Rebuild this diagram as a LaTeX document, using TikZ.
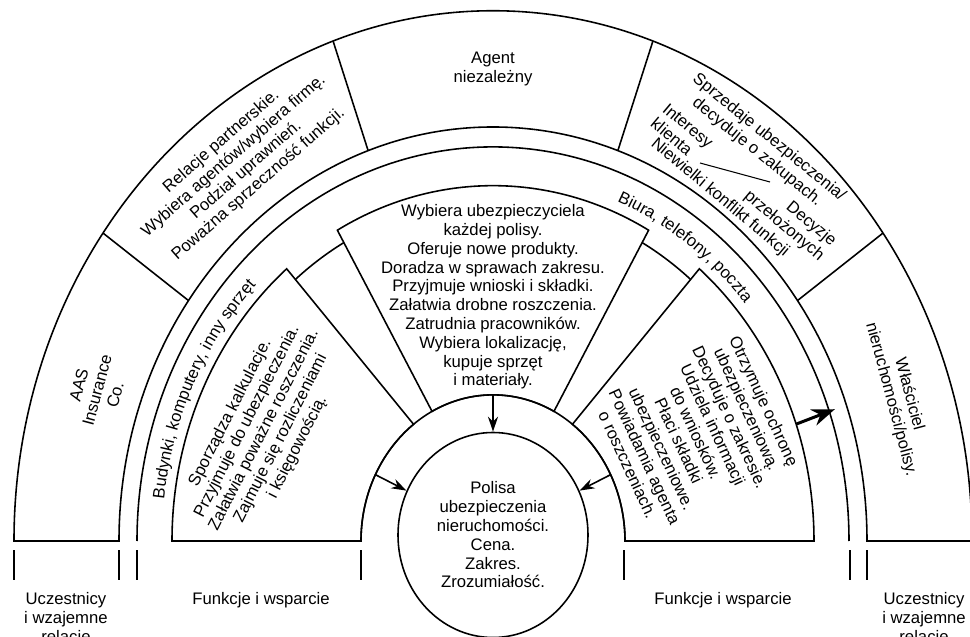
\documentclass[tikz,border=0pt]{standalone}
\usepackage{fontspec}
\setmainfont{Liberation Sans}
\usetikzlibrary{arrows.meta,shapes.geometric,decorations.text}
\newcommand{\diagfont}{\fontsize{9.5}{10.7}\selectfont}

\begin{document}
\begin{tikzpicture}[x=0.2mm,y=0.2mm,line width=0.9pt,
  every node/.style={font=\diagfont,align=center,inner sep=0pt},
  card/.style={draw,fill=white},
  bend text/.style={decorate,decoration={text along path,text align=center,text={|\diagfont|#1}}},
  flow/.style={draw,-{Stealth[length=3mm,width=2mm]}},
  bigflow/.style={draw,line width=1.7pt,-{Stealth[length=4.6mm,width=3.4mm]}}]
\useasboundingbox (-493,-95) rectangle (477,541);
\begin{scope}[yscale=1.107]
\path[draw] (180:479) arc[start angle=180,end angle=0,radius=479] -- (0:374)
  arc[start angle=0,end angle=180,radius=374] -- cycle;
\foreach \a in {144.5,109.5,70.5,35.5}
  \path[draw] (\a:374) -- (\a:479);
\path[draw] (180:356) arc[start angle=180,end angle=0,radius=356];
\path[draw] (180:308) arc[start angle=180,end angle=0,radius=308];
\path[card] (180:321) arc[start angle=180,end angle=130,radius=321] -- (127:132)
  arc[start angle=127,end angle=180,radius=132] -- cycle;
\path[card] (119:321) arc[start angle=119,end angle=61,radius=321] -- (62.5:132)
  arc[start angle=62.5,end angle=117.5,radius=132] -- cycle;
\path[card] (50:321) arc[start angle=50,end angle=0,radius=321] -- (0:132)
  arc[start angle=0,end angle=53,radius=132] -- cycle;
\path[draw] (180:132) arc[start angle=180,end angle=0,radius=132];
\coordinate (l) at (153:132);
\coordinate (t) at (90:132);
\coordinate (r) at (27:132);
\coordinate (o1) at (19.2:321);
\coordinate (o2) at (19.2:362);
\end{scope}

\node[draw,ellipse,minimum width=38mm,minimum height=41mm] (p) at (0,6)
  {Polisa\\ubezpieczenia\\nieruchomości.\\Cena.\\Zakres.\\Zrozumiałość.};
\path[flow] (l) -- (p);
\path[flow] (t) -- (p);
\path[flow] (r) -- (p);
\path[bigflow] (o1) -- (o2);

\node[rotate=75] (aas) at (-396,151) {AAS\\Insurance\\Co.};
\node[rotate=41] (rel) at (-253,378) {Relacje partnerskie.\\Wybiera agentów/wybiera firmę.\\Podział uprawnień.\\Poważna sprzeczność funkcji.};
\node (agent) at (0,472) {Agent\\niezależny};
\node[rotate=-39] (sprz) at (270,396) {Sprzedaje ubezpieczenia/\\decyduje o zakupach.};
\node[rotate=-40,align=left] (int) at (189,408) {Interesy\\klienta};
\node[rotate=-40] (konf) at (227,343) {Niewielki konflikt funkcji};
\node[rotate=-40,align=right] (dec) at (297,322) {Decyzje\\przełożonych};
\coordinate (s1) at (207,378);
\coordinate (s2) at (277,359);
\path[draw,line width=0.6pt] (s1) -- (s2);
\node[rotate=-75] (wl) at (407,144) {Właściciel\\nieruchomości/polisy.};

\path[bend text={Budynki, komputery, inny sprzęt}]
  (176:331 and 366.4) arc[start angle=176,end angle=133,x radius=331,y radius=366.4];
\path[bend text={Biura, telefony, poczta}]
  (70:331 and 366.4) arc[start angle=70,end angle=38.5,x radius=331,y radius=366.4];
\node[rotate=63] (lk) at (-229,111) {Sporządza kalkulacje.\\Przyjmuje do ubezpieczenia.\\Załatwia poważne roszczenia.\\Zajmuje się rozliczeniami\\i księgowością.};
\node (wk) at (0,244) {Wybiera ubezpieczyciela\\każdej polisy.\\Oferuje nowe produkty.\\Doradza w sprawach zakresu.\\Przyjmuje wnioski i składki.\\Załatwia drobne roszczenia.\\Zatrudnia pracowników.\\Wybiera lokalizację,\\kupuje sprzęt\\i materiały.};
\node[rotate=-65] (pk) at (203,108) {Otrzymuje ochronę\\ubezpieczeniową.\\Decyduje o zakresie.\\Udziela informacji\\do wniosków.\\Płaci składki\\ubezpieczeniowe.\\Powiadamia agenta\\o roszczeniach.};

\foreach \x in {-479,-374,-356,-132,131,357,374,479}
  \path[draw] (\x,-9) -- (\x,-39);
\node (u1) at (-427,-78) {Uczestnicy\\i wzajemne\\relacje};
\node (f1) at (-232,-59) {Funkcje i wsparcie};
\node (f2) at (230,-59) {Funkcje i wsparcie};
\node (u2) at (431,-78) {Uczestnicy\\i wzajemne\\relacje};
\end{tikzpicture}
\end{document}
